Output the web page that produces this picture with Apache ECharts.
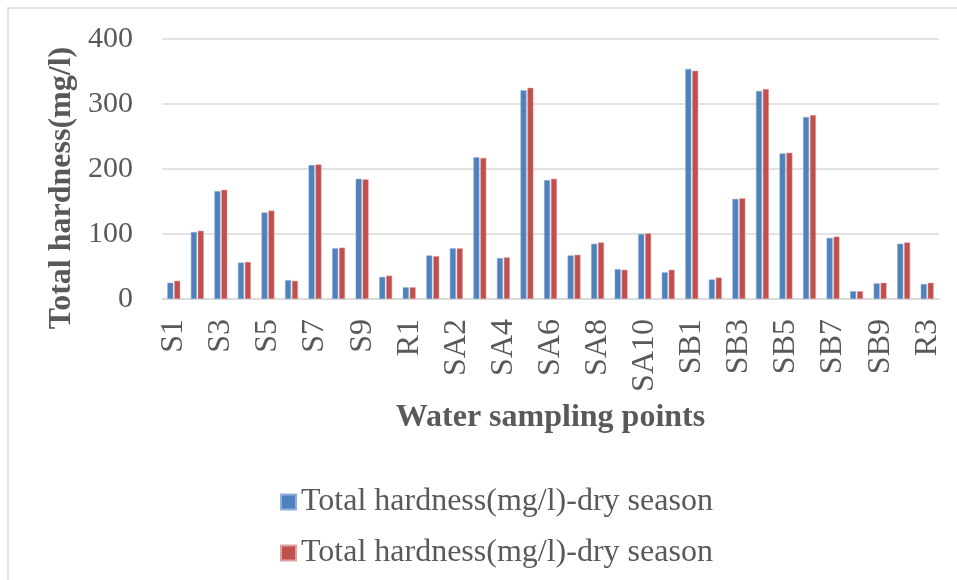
<!DOCTYPE html>
<html>
<head>
<meta charset="utf-8">
<script src="https://cdn.jsdelivr.net/npm/echarts@6/dist/echarts.min.js"></script>
<style>html,body{margin:0;padding:0;background:#fff;}#c{width:957px;height:580px;}</style>
</head>
<body>
<div id="c"></div>
<script>
const categories = ['S1','S2','S3','S4','S5','S6','S7','S8','S9','S10','R1',
  'SA1','SA2','SA3','SA4','SA5','SA6','SA7','SA8','SA9','SA10','R2',
  'SB1','SB2','SB3','SB4','SB5','SB6','SB7','SB8','SB9','SB10','R3'];
const seriesNames = ['Total hardness(mg/l)-dry season', 'Total hardness(mg/l)-dry season'];
const blueValues = [25,103,166,56,133,29,206,78,185,34,18,
  67,78,218,63,321,183,67,85,46,100,41,
  354,30,154,320,224,280,94,12,24,85,23];
const redValues = [28,105,168,57,136,28,207,79,184,36,18,
  66,78,217,64,325,185,68,87,45,101,45,
  351,33,155,323,225,283,96,12,25,87,25];
const yTicks = [0, 100, 200, 300, 400];
const xTitle = 'Water sampling points';
const yTitle = 'Total hardness(mg/l)';

const FONT = '"Liberation Serif","Times New Roman",serif';
const TXT = '#595959';
const chart = echarts.init(document.getElementById('c'), null, {renderer: 'canvas'});
chart.setOption({
  animation: false,
  backgroundColor: '#fff',
  textStyle: {fontFamily: FONT},
  grid: {left: 162, right: 18, top: 39, bottom: 281, containLabel: false},
  xAxis: {
    type: 'category',
    data: categories,
    axisLine: {show: true, lineStyle: {color: '#d9d9d9', width: 1.5}},
    axisTick: {show: false},
    axisLabel: {interval: 1, rotate: 90, margin: 20, color: TXT, fontSize: 32, fontFamily: FONT},
    name: xTitle,
    nameLocation: 'middle',
    nameGap: 103,
    nameTextStyle: {fontSize: 32, fontWeight: 'bold', color: TXT, fontFamily: FONT}
  },
  yAxis: {
    type: 'value',
    min: yTicks[0],
    max: yTicks[yTicks.length - 1],
    interval: 100,
    axisLine: {show: false},
    axisTick: {show: false},
    splitLine: {lineStyle: {color: '#d9d9d9', width: 1.5}},
    axisLabel: {margin: 29, color: TXT, fontSize: 30, fontFamily: FONT}
  },
  legend: {
    orient: 'vertical',
    left: 275,
    top: 481,
    itemWidth: 15,
    itemHeight: 15,
    itemGap: 19,
    icon: 'rect',
    data: ['dry1', 'dry2'],
    formatter: function (n) { return n === 'dry1' ? seriesNames[0] : seriesNames[1]; },
    textStyle: {fontSize: 32, color: TXT, fontFamily: FONT, padding: [0, 0, 0, 0]}
  },
  graphic: [
    {type: 'rect', shape: {x: 8, y: 8, width: 1000, height: 1000},
      style: {fill: 'none', stroke: '#d9d9d9', lineWidth: 1.5}, silent: true},
    {type: 'text', x: 62, y: 188, rotation: Math.PI / 2,
      style: {text: yTitle, fontSize: 32, fontWeight: 'bold', fill: TXT, fontFamily: FONT,
        align: 'center', verticalAlign: 'middle'}}
  ],
  series: [
    {name: 'dry1', type: 'bar', data: blueValues, barWidth: 6, barGap: '15%',
      itemStyle: {color: '#4F81BD', borderColor: '#8fb0d9', borderWidth: 0.5}},
    {name: 'dry2', type: 'bar', data: redValues, barWidth: 6, barGap: '15%',
      itemStyle: {color: '#C0504D', borderColor: '#e0a09e', borderWidth: 0.5}}
  ]
});
</script>
</body>
</html>
